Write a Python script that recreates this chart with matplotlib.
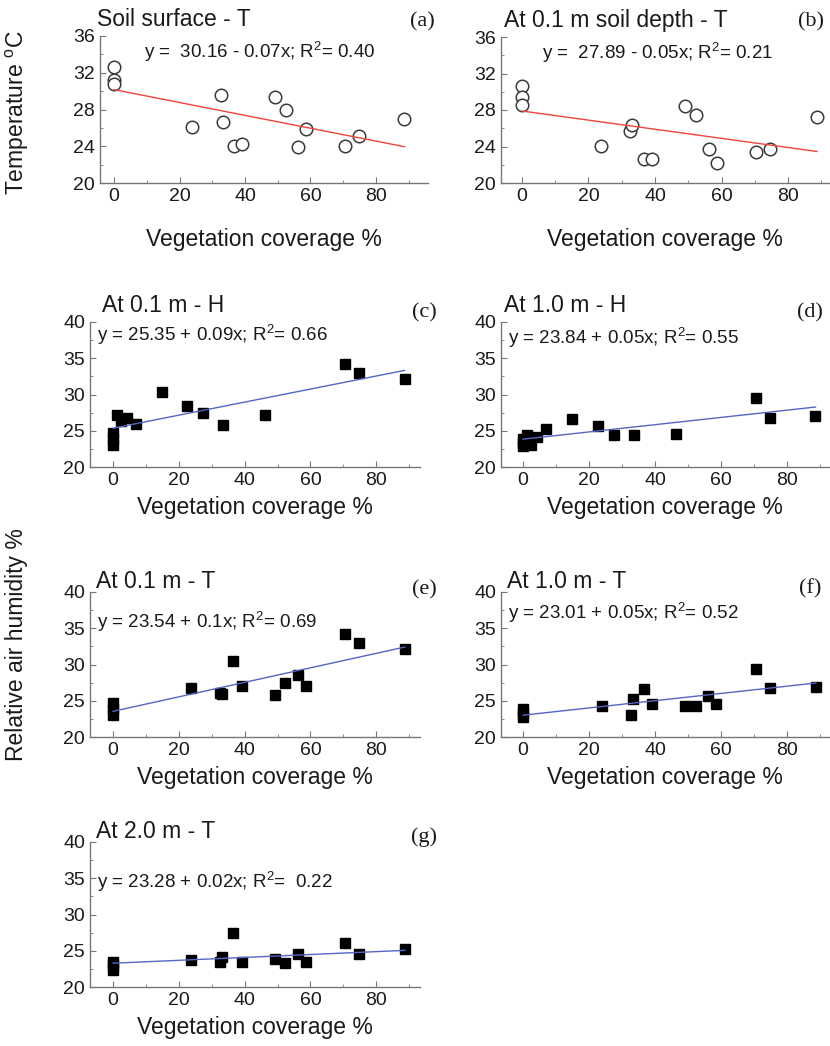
import matplotlib
matplotlib.use('Agg')
import matplotlib.pyplot as plt
from matplotlib.ticker import MultipleLocator

plt.rcParams['font.family'] = ['Liberation Sans', 'DejaVu Sans']
plt.rcParams['mathtext.fontset'] = 'custom'
plt.rcParams['mathtext.rm'] = 'Liberation Sans'

W, H = 830, 1046

# vegetation coverage % (x) for soil / T series and for H series
x_t = [0, 0, 0, 23.8, 32.6, 33.2, 36.6, 39.2, 49.1, 52.4, 56.1, 58.5, 70.5, 74.7, 88.7]
x_h = [0, 0, 0, 1.3, 2.5, 4.2, 6.9, 14.8, 22.6, 27.4, 33.5, 46.3, 70.6, 74.8, 88.6]

y_a = [32.6, 31.2, 30.8, 26.1, 29.6, 26.6, 24.0, 24.2, 29.4, 27.9, 23.9, 25.9, 24.0, 25.1, 27.0]
y_b = [30.6, 29.4, 28.6, 24.1, 25.7, 26.4, 22.6, 22.6, 28.4, 27.5, 23.7, 22.2, 23.4, 23.7, 27.2]
y_c = [24.7, 23.9, 23.1, 27.2, 26.3, 26.7, 25.9, 30.4, 28.4, 27.4, 25.8, 27.2, 34.2, 32.9, 32.2]
y_d = [23.8, 23.3, 22.9, 24.4, 23.0, 24.2, 25.2, 26.6, 25.7, 24.4, 24.4, 24.5, 29.5, 26.8, 27.0]
y_e = [24.7, 23.8, 23.0, 26.7, 26.1, 26.0, 30.5, 27.0, 25.8, 27.4, 28.5, 27.1, 34.2, 32.9, 32.2]
y_f = [23.8, 23.3, 22.8, 24.3, 23.0, 25.2, 26.6, 24.5, 24.3, 24.3, 25.7, 24.5, 29.4, 26.8, 26.9]
y_g = [23.5, 23.0, 22.4, 23.7, 23.5, 24.1, 27.4, 23.5, 23.8, 23.3, 24.6, 23.5, 26.1, 24.6, 25.3]

intercepts = [30.16, 27.89, 25.35, 23.84, 23.54, 23.01, 23.28]
slopes = [-0.07, -0.05, 0.09, 0.05, 0.1, 0.05, 0.02]

titles = ['Soil surface - T', 'At 0.1 m soil depth - T', 'At 0.1 m - H', 'At 1.0 m - H',
          'At 0.1 m - T', 'At 1.0 m - T', 'At 2.0 m - T']
equations = ['y =  30.16 - 0.07x; R$^2$= 0.40', 'y =  27.89 - 0.05x; R$^2$= 0.21',
             'y = 25.35 + 0.09x; R$^2$= 0.66', 'y = 23.84 + 0.05x; R$^2$= 0.55',
             'y = 23.54 + 0.1x; R$^2$= 0.69', 'y = 23.01 + 0.05x; R$^2$= 0.52',
             'y = 23.28 + 0.02x; R$^2$=  0.22']
letters = ['(a)', '(b)', '(c)', '(d)', '(e)', '(f)', '(g)']
xs = [x_t, x_t, x_h, x_h, x_t, x_t, x_t]
ys = [y_a, y_b, y_c, y_d, y_e, y_f, y_g]

# layout in pixels: left, top, right, bottom, xlim
boxes = [(100, 36, 428, 183, (-4.3, 95.9)),
         (501, 37, 829, 183, (-6.3, 92.3)),
         (90, 322, 420, 467, (-7, 93.3)),
         (501, 322, 829, 467, (-6.7, 92.7)),
         (90, 592, 420, 737, (-7, 93.3)),
         (501, 592, 829, 737, (-6.7, 92.7)),
         (90, 842, 420, 987, (-7, 93.3))]
title_pos = [(97, 20), (504, 20), (102, 305), (504, 305), (96, 582), (507, 582), (96, 832)]
eq_pos = [(144, 52), (542, 53), (97, 335), (508, 338), (97, 622), (508, 613), (97, 882)]
letter_pos = [(422, 22), (811, 22), (424, 313), (810, 313), (424, 590), (810, 589), (424, 837)]


def fx(x):
    return x / W


def fy(y):
    return 1 - y / H


fig = plt.figure(figsize=(8.3, 10.46), dpi=100)

for i in range(7):
    l, t, r, b, xl = boxes[i]
    ax = fig.add_axes([fx(l), fy(b), (r - l) / W, (b - t) / H])
    if i < 2:
        ax.plot(xs[i], ys[i], 'o', ms=9, mfc='white', mec='#3a3a3a', mew=1.1, zorder=3)
        lc = '#f0443a'
        ax.set_ylim(20, 36)
        ax.yaxis.set_major_locator(MultipleLocator(4))
        ax.yaxis.set_minor_locator(MultipleLocator(2))
    else:
        ax.plot(xs[i], ys[i], 's', ms=7.5, color='black', zorder=3)
        lc = '#5366c4'
        ax.set_ylim(20, 40)
        ax.yaxis.set_major_locator(MultipleLocator(5))
        ax.yaxis.set_minor_locator(MultipleLocator(2.5))
    x1 = max(xs[i])
    ax.plot([0, x1], [intercepts[i], intercepts[i] + slopes[i] * x1], color=lc, lw=1, zorder=4)
    ax.set_xlim(*xl)
    ax.xaxis.set_major_locator(MultipleLocator(20))
    ax.xaxis.set_minor_locator(MultipleLocator(10))
    for s in ['top', 'right']:
        ax.spines[s].set_visible(False)
    for s in ['left', 'bottom']:
        ax.spines[s].set_color('#777777')
        ax.spines[s].set_linewidth(1)
    ax.tick_params(which='both', direction='in', colors='#777777', labelcolor='#1a1a1a', labelsize=14)
    ax.tick_params(which='major', length=4)
    ax.tick_params(which='minor', length=2.5)
    ax.set_xlabel('Vegetation coverage %', fontsize=16.5, color='#1a1a1a',
                  labelpad=(17 if i < 2 else 5))

    fig.text(fx(title_pos[i][0]), fy(title_pos[i][1]), titles[i], fontsize=16.5,
             ha='left', va='center', color='#1a1a1a')
    fig.text(fx(eq_pos[i][0]), fy(eq_pos[i][1]), equations[i], fontsize=13.5,
             ha='left', va='center', color='#1a1a1a')
    fig.text(fx(letter_pos[i][0]), fy(letter_pos[i][1]), letters[i], fontsize=16,
             family='Liberation Serif', ha='center', va='center', color='#1a1a1a')

fig.text(fx(17), fy(113), 'Temperature $^{\\rm o}$C', rotation=90, fontsize=16.5,
         ha='center', va='center', color='#1a1a1a')
fig.text(fx(17), fy(645), 'Relative air humidity %', rotation=90, fontsize=16.5,
         ha='center', va='center', color='#1a1a1a')

fig.savefig('out.png', dpi=100)
